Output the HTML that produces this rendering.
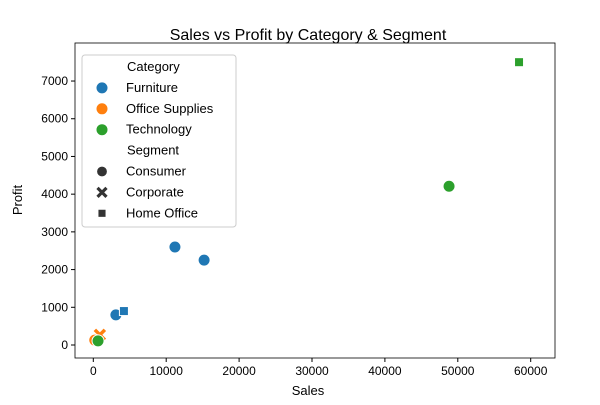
<!DOCTYPE html>
<html><head><meta charset="utf-8"><style>body{margin:0;background:#fff}svg{font-family:"Liberation Sans",sans-serif}</style></head>
<body>
<svg id="c" width="600" height="400">
<text x="308" y="40" text-anchor="middle" font-size="16">Sales vs Profit by Category &amp; Segment</text>
<g id="ax"></g><g id="marks"></g><g id="leg"></g>
</svg>
<script>
const sales=[3100,4200,11200,15200,900,200,650,48800,58400];
const profit=[800,900,2600,2250,270,130,110,4210,7500];
const category=["Furniture","Furniture","Furniture","Furniture","Office Supplies","Office Supplies","Technology","Technology","Technology"];
const segment=["Consumer","Home Office","Consumer","Consumer","Corporate","Consumer","Consumer","Consumer","Home Office"];
const xTicks=[0,10000,20000,30000,40000,50000,60000];
const yTicks=[0,1000,2000,3000,4000,5000,6000,7000];
const colors={"Furniture":"#1f77b4","Office Supplies":"#ff7f0e","Technology":"#2ca02c"};
const NS="http://www.w3.org/2000/svg";
const L=75,R=555,T=43,B=358;
const xs=v=>93.3+v*0.00729;
const ys=v=>345-v*0.03771;
function mk(tag,attrs,parent,text){const e=document.createElementNS(NS,tag);for(const k in attrs)e.setAttribute(k,attrs[k]);if(text!==undefined)e.textContent=text;parent.appendChild(e);return e;}
const ax=document.getElementById('ax');
const frame=mk('rect',{x:L,y:T,width:R-L,height:B-T,fill:'none',stroke:'#000','stroke-width':0.8},ax);


xTicks.forEach(t=>{const x=xs(t);mk('line',{x1:x,x2:x,y1:B,y2:B+4,stroke:'#000'},ax);
const lb=mk('text',{x:x,y:B+17,'text-anchor':'middle','font-size':12},ax,String(t));

});
yTicks.forEach(t=>{const y=ys(t);mk('line',{x1:L-4,x2:L,y1:y,y2:y,stroke:'#000'},ax);
const lb=mk('text',{x:L-7,y:y+4,'text-anchor':'end','font-size':12},ax,String(t));

});
const xt=mk('text',{x:308,y:395,'text-anchor':'middle','font-size':13},ax,'Sales');


const yt=mk('text',{x:22,y:200,'text-anchor':'middle','font-size':13,transform:'rotate(-90 22 200)'},ax,'Profit');


function marker(p,seg,x,y,col,s){
 if(seg==="Consumer")return mk('circle',{cx:x,cy:y,r:6*s,fill:col,stroke:'#fff','stroke-width':1},p);
 if(seg==="Home Office")return mk('rect',{x:x-4.5*s,y:y-4.5*s,width:9*s,height:9*s,fill:col,stroke:'#fff','stroke-width':1},p);
 const d=5*s;return mk('path',{d:`M${x-d} ${y-d}L${x+d} ${y+d}M${x-d} ${y+d}L${x+d} ${y-d}`,stroke:col,'stroke-width':3.5*s,'stroke-linecap':'butt'},p);
}
const mg=document.getElementById('marks');
sales.forEach((v,i)=>{const m=marker(mg,segment[i],xs(v),ys(profit[i]),colors[category[i]],1);

});
const lg=document.getElementById('leg');
const box=mk('rect',{x:82,y:55,width:154,height:172,fill:'#fff','fill-opacity':0.8,stroke:'#ccc',rx:3},lg);


const rows=[["h","Category"],["c","Furniture"],["c","Office Supplies"],["c","Technology"],["h","Segment"],["s","Consumer"],["s","Corporate"],["s","Home Office"]];
rows.forEach((r,i)=>{const y=66+i*20.9;
 if(r[0]==="h"){const t=mk('text',{x:127,y:y+5,'font-size':13},lg,r[1]);return;}
 if(r[0]==="c")marker(lg,"Consumer",102,y+1,colors[r[1]],1);else marker(lg,r[1],102,y+1,'#333',0.9);
 const t=mk('text',{x:126,y:y+5,'font-size':13},lg,r[1]);
 
 });
</script>
</body></html>
